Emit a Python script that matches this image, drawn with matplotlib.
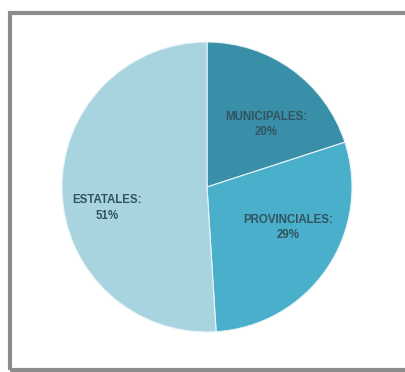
import matplotlib
matplotlib.use("Agg")
import matplotlib.pyplot as plt
from matplotlib.patches import Rectangle

categories = ["MUNICIPALES", "PROVINCIALES", "ESTATALES"]
shares = [20, 29, 51]
colors = ["#3a8fa8", "#4aafcb", "#a7d4df"]

W, H = 405, 372
fig = plt.figure(figsize=(W / 100, H / 100), dpi=100)
fig.patch.set_facecolor("white")

# gray frame around the chart area
frame = Rectangle((10 / W, 1 - 370 / H), 400 / W, 357 / H,
                  transform=fig.transFigure, fill=False,
                  edgecolor="#8c8c8c", linewidth=3.0)
fig.patches.append(frame)

cx, cy, r = 207, 187, 145
ax = fig.add_axes([(cx - r) / W, (H - cy - r) / H, 2 * r / W, 2 * r / H])
ax.set_xlim(-1, 1)
ax.set_ylim(-1, 1)
ax.set_aspect("equal")
ax.axis("off")

wedges, texts = ax.pie(shares, colors=colors, startangle=90, counterclock=False,
                       radius=1.0, center=(0, 0), frame=False,
                       wedgeprops=dict(edgecolor="#e8f4f7", linewidth=0.8))

label_pos = [(0.41, 0.43), (0.56, -0.28), (-0.69, -0.145)]
for name, val, (x, y) in zip(categories, shares, label_pos):
    ax.text(x, y, f"{name}:\n{val}%", ha="center", va="center",
            fontsize=8.3, fontweight="bold", color="#30535f",
            family=["Liberation Sans", "DejaVu Sans"], linespacing=1.35)

ax.set_xlim(-1, 1)
ax.set_ylim(-1, 1)
fig.savefig("out.png", dpi=100)
